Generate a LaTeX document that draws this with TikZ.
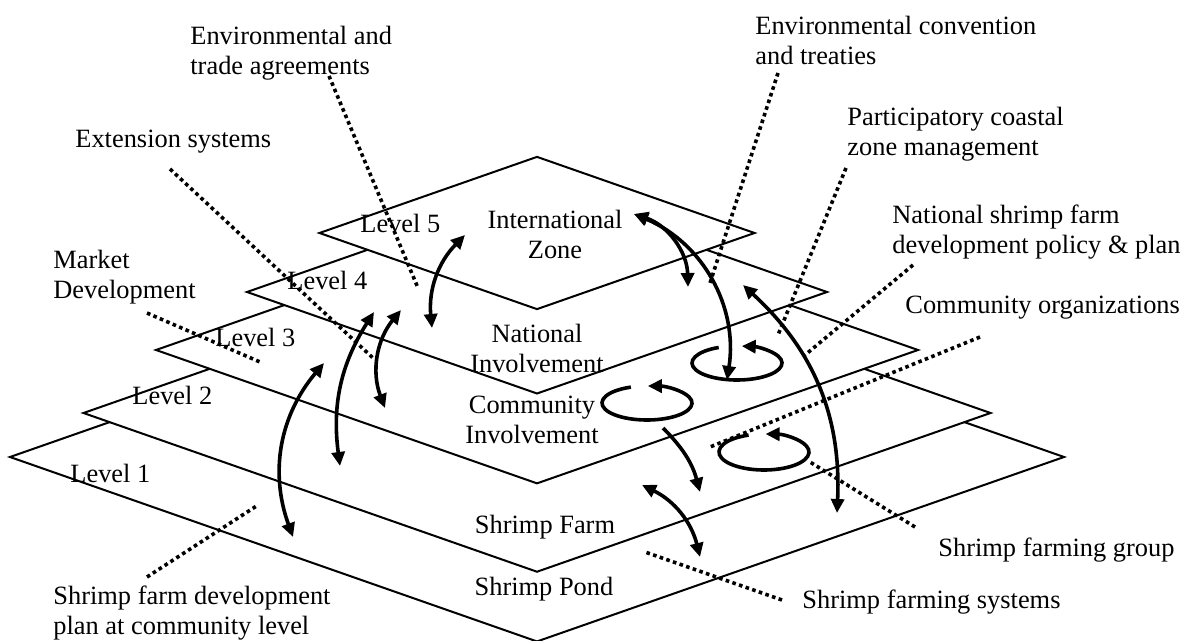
\documentclass[tikz,border=0pt]{standalone}
\usepackage{fontspec}
\setmainfont{Liberation Serif}
\usetikzlibrary{arrows.meta}

\begin{document}
\begin{tikzpicture}[x=0.5pt, y=-0.5pt,
    every node/.style={font=\fontsize{13.2pt}{15pt}\selectfont, inner sep=0pt},
    plane/.style={draw, fill=white, line width=1pt},
    note/.style={anchor=west, align=left},
    leader/.style={line width=1.8pt, dash pattern=on 1.8pt off 1.7pt},
    twoway/.style={line width=1.8pt, {Triangle[length=7pt,width=6.5pt]}-{Triangle[length=7pt,width=6.5pt]}},
    oneway/.style={line width=1.8pt, -{Triangle[length=7pt,width=6.5pt]}}]

\useasboundingbox (0,0) rectangle (1186,641);

% Shrimp farming levels, stacked from Level 1 up to Level 5

\foreach \cy/\hw in {457/527, 413/453.5, 350/381, 292/290, 233/217.5}
    \draw[plane] (537-\hw,\cy) -- (537,\cy-0.35*\hw) -- (537+\hw,\cy)
        -- (537,\cy+0.35*\hw) -- cycle;

\node[anchor=west] (L1) at (70,473) {Level 1};
\node[anchor=west] (L2) at (132,395) {Level 2};
\node[anchor=west] (L3) at (215,337) {Level 3};
\node[anchor=west] (L4) at (287,280) {Level 4};
\node[anchor=west] (L5) at (360,223) {Level 5};

\node[align=center] (intl) at (555,234) {International\\Zone};
\node[align=center] (natl) at (537,348) {National\\Involvement};
\node[align=center] (comm) at (532,420) {Community\\Involvement};
\node (farm) at (545,527) {Shrimp Farm};
\node (pond) at (544,589) {Shrimp Pond};

% notes round the levels
\node[note] (trade) at (190,53) {Environmental and\\trade agreements};
\node[note] (ext) at (75,142) {Extension systems};
\node[note] (market) at (53,277) {Market\\Development};
\node[note] (conv) at (755,40) {Environmental convention\\and treaties};
\node[note] (coast) at (847,134) {Participatory coastal\\zone management};
\node[note] (policy) at (892,232) {National shrimp farm\\development policy \& plan};
\node[note] (orgs) at (905,308) {Community organizations};
\node[note] (group) at (938,550) {Shrimp farming group};
\node[note] (sys) at (802,602) {Shrimp farming systems};
\node[note] (plan) at (53,613) {Shrimp farm development\\plan at community level};

\coordinate (t1) at (329,76);  \coordinate (t2) at (418,288);
\coordinate (x1) at (170,169); \coordinate (x2) at (373,358);
\coordinate (m1) at (147,313); \coordinate (m2) at (260,362);
\coordinate (v1) at (778,73);  \coordinate (v2) at (710,283);
\coordinate (z1) at (846,168); \coordinate (z2) at (778,335);
\coordinate (p1) at (913,265); \coordinate (p2) at (805,355);
\coordinate (o1) at (980,337); \coordinate (o2) at (710,447);
\coordinate (g1) at (915,527); \coordinate (g2) at (810,462);
\coordinate (s1) at (782,600); \coordinate (s2) at (645,552);
\coordinate (d1) at (147,577); \coordinate (d2) at (258,505);

\foreach \from/\to in {t1/t2, x1/x2, m1/m2, v1/v2, z1/z2,
                       p1/p2, o1/o2, g1/g2, s1/s2, d1/d2}
    \draw[leader] (\from) -- (\to);

% links between the levels
\coordinate (a1) at (340,466); \coordinate (a2) at (374,312);
\coordinate (b1) at (385,408); \coordinate (b2) at (401,310);
\coordinate (c1) at (293,537); \coordinate (c2) at (324,363);
\coordinate (e1) at (432,328); \coordinate (e2) at (465,235);
\coordinate (i1) at (634,214); \coordinate (i2) at (688,287);
\coordinate (i3) at (727,380);
\coordinate (f1) at (743,285); \coordinate (f2) at (837,513);
\coordinate (h1) at (663,428); \coordinate (h2) at (700,492);
\coordinate (k1) at (642,485); \coordinate (k2) at (700,557);

\draw [twoway] (a1) to[bend left=20] (a2);
\draw [twoway] (b1) to[bend left=30] (b2);
\draw [twoway] (c1) to[bend left=30] (c2);
\draw [twoway] (e1) to[bend left=25] (e2);
\draw [twoway] (i1) to[bend left=35] (i2);
\draw [twoway] (i1) to[bend left=38] (i3);
\draw [twoway] (f1) to[bend left=25] (f2);
\draw [oneway] (h1) to[bend left=15] (h2);
\draw [twoway] (k1) to[bend left=25] (k2);

% turning arrows
\coordinate (nat) at (737,363);
\coordinate (com) at (647,403);
\coordinate (grp) at (764,452);

\draw [oneway] ([shift={(114:22.5pt and 8.5pt)}]nat)
    arc[start angle=114, end angle=444, x radius=22.5pt, y radius=8.5pt];
\draw [oneway] ([shift={(111:22.5pt and 8.5pt)}]com)
    arc[start angle=111, end angle=449, x radius=22.5pt, y radius=8.5pt];
\draw [oneway] ([shift={(110:22.5pt and 9pt)}]grp)
    arc[start angle=110, end angle=448, x radius=22.5pt, y radius=9pt];

\end{tikzpicture}
\end{document}
